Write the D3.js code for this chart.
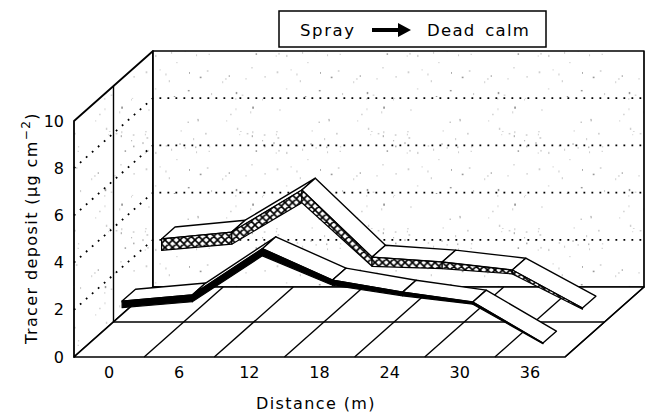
<!DOCTYPE html>
<html>
<head>
<meta charset="utf-8">
<script src="https://cdn.jsdelivr.net/npm/d3@7"></script>
<style>
  html, body { margin: 0; padding: 0; background: #fff; }
  svg { display: block; }
  text { font-family: "DejaVu Sans", sans-serif; fill: #000; }
</style>
</head>
<body>
<div id="chart"></div>
<script>
// values (ug cm-2)
const distances = [0, 6, 12, 18, 24, 30, 36]
const yTicks = [0, 2, 4, 6, 8, 10]
const rows = ['front', 'back']
const frontDeposit = [1.88, 2.14, 4.1, 2.77, 2.26, 1.84, 0.1]
const backDeposit = [3.03, 3.32, 5.1, 2.26, 2.05, 1.71, 0.1]

const W = 646, H = 413
const svg = d3.select('#chart').append('svg')
  .attr('width', W).attr('height', H)
  .attr('viewBox', `0 0 ${W} ${H}`)

const x = d3.scaleBand().domain(distances).range([74, 565])
const y = d3.scaleLinear().domain([0, 10]).range([357, 121])
const z = d3.scaleBand().domain(rows).range([0, 1])
// ribbon edge gets thinner towards the far end
const taper = d3.scaleLinear().domain([0, 12, 18, 36]).range([1, 1.1, 0.8, 0.1])

// oblique projection: full depth goes up and to the right
const DX = 79, DY = -70
const pt = (px, py, d) => [px + DX * d, py + DY * d]
const poly = pts => 'M' + pts.map(p => p.join(',')).join('L') + 'Z'

const defs = svg.append('defs')

// speckled wall texture (deterministic lcg, just for the grain)
let seed = 11
const rnd = () => (seed = (seed * 16807) % 2147483647) / 2147483647
const speckle = defs.append('pattern')
  .attr('id', 'speckle').attr('patternUnits', 'userSpaceOnUse')
  .attr('width', 131).attr('height', 97)
speckle.append('rect').attr('width', 131).attr('height', 97).attr('fill', '#fff')
d3.range(60).forEach(() => {
  speckle.append('rect')
    .attr('x', rnd() * 131).attr('y', rnd() * 97)
    .attr('width', 0.8 + rnd()).attr('height', 0.8 + rnd() * 1.4)
    .attr('fill', rnd() > 0.75 ? '#999' : '#cfcfcf')
})

const hatch = defs.append('pattern')
  .attr('id', 'hatch').attr('patternUnits', 'userSpaceOnUse')
  .attr('width', 7.5).attr('height', 7.5)
hatch.append('rect').attr('width', 7.5).attr('height', 7.5).attr('fill', '#fff')
hatch.append('path')
  .attr('d', 'M0,0L7.5,7.5M7.5,0L0,7.5M-1,6.5L1,8.5M6.5,-1L8.5,1M-1,1L1,-1M6.5,8.5L8.5,6.5')
  .attr('stroke', '#000').attr('stroke-width', 1.7)

const x0 = x.range()[0], x1 = x.range()[1]
const yBase = y(0), yTop = y(10)

// walls and floor
const frame = svg.append('g').attr('stroke', '#000').attr('stroke-linejoin', 'round')
frame.append('path')
  .attr('d', poly([[x0, yBase], [x0, yTop], pt(x0, yTop, 1), pt(x0, yBase, 1)]))
  .attr('fill', 'url(#speckle)').attr('stroke-width', 1.8)
frame.append('path')
  .attr('d', poly([pt(x0, yTop, 1), pt(x1, yTop, 1), pt(x1, yBase, 1), pt(x0, yBase, 1)]))
  .attr('fill', 'url(#speckle)').attr('stroke-width', 1.7)
frame.append('path')
  .attr('d', poly([[x0, yBase], [x1, yBase], pt(x1, yBase, 1), pt(x0, yBase, 1)]))
  .attr('fill', '#fff').attr('stroke-width', 1.5)

// dotted gridlines on left and back walls
const grid = svg.append('g')
  .attr('stroke', '#000').attr('stroke-width', 1.8)
  .attr('stroke-dasharray', '1.8 6.2').attr('fill', 'none')
yTicks.filter(v => v > 0 && v < 10).forEach(v => {
  grid.append('path').attr('d', d3.line()([[x0, y(v)], pt(x0, y(v), 1), pt(x1, y(v), 1)]))
})

// row divider and floor cells
const floor = svg.append('g').attr('stroke', '#000').attr('stroke-width', 1.4)
const mid = z.bandwidth()
floor.append('path').attr('d', d3.line()([pt(x0, yTop, mid), pt(x0, yBase, mid), pt(x1, yBase, mid)]))
  .attr('fill', 'none')
distances.forEach(dv => {
  const xe = x(dv) + x.bandwidth()
  floor.append('path').attr('d', d3.line()([[xe, yBase], pt(xe, yBase, 1)]))
})

// 3d ribbons, back row first
function ribbon(values, row, fill, base) {
  const d1 = z(row) + z.bandwidth() * 0.33
  const d2 = z(row) + z.bandwidth() * 0.67
  const cx = distances.map(dv => x(dv) + x.bandwidth() / 2)
  const F = values.map((v, i) => pt(cx[i], y(v), d1))
  const B = values.map((v, i) => pt(cx[i], y(v), d2))
  const T = distances.map(dv => base * taper(dv))
  const g = svg.append('g').attr('stroke', '#000').attr('stroke-linejoin', 'round')
  d3.pairs(d3.range(values.length)).forEach(([a, b]) => {
    g.append('path').attr('d', poly([F[a], F[b], B[b], B[a]]))
      .attr('fill', '#fff').attr('stroke-width', 1.4)
  })
  d3.pairs(d3.range(values.length)).forEach(([a, b]) => {
    g.append('path')
      .attr('d', poly([F[a], F[b], [F[b][0], F[b][1] + T[b]], [F[a][0], F[a][1] + T[a]]]))
      .attr('fill', fill).attr('stroke-width', 1.2)
  })
}
ribbon(backDeposit, 'back', 'url(#hatch)', 11.5)
ribbon(frontDeposit, 'front', '#000', 6.5)

// axes
const yAxis = svg.append('g').attr('transform', `translate(${x0},0)`)
  .call(d3.axisLeft(y).tickValues(yTicks).tickSize(0).tickPadding(10))
yAxis.select('.domain').remove()
yAxis.selectAll('text').style('font-size', '16px').style('font-family', '"DejaVu Sans", sans-serif')

const xAxis = svg.append('g').attr('transform', `translate(0,${yBase})`)
  .call(d3.axisBottom(x).tickSize(0).tickPadding(10))
xAxis.select('.domain').remove()
xAxis.selectAll('text').style('font-size', '16px').style('font-family', '"DejaVu Sans", sans-serif')

svg.append('text')
  .attr('x', 316).attr('y', 409).attr('text-anchor', 'middle')
  .style('font-size', '16px').style('letter-spacing', '1.4px')
  .text('Distance (m)')

const yTitle = svg.append('text')
  .attr('transform', 'translate(37,228) rotate(-90)').attr('text-anchor', 'middle')
  .style('font-size', '16px').style('letter-spacing', '1.4px')
yTitle.append('tspan').text('Tracer deposit (µg cm')
yTitle.append('tspan').attr('dy', -7).style('font-size', '12px').text('−2')
yTitle.append('tspan').attr('dy', 7).text(')')

// title box
const box = svg.append('g')
box.append('rect').attr('x', 279).attr('y', 11).attr('width', 267).attr('height', 36)
  .attr('fill', '#fff').attr('stroke', '#000').attr('stroke-width', 1.5)
box.append('text').attr('x', 300).attr('y', 36)
  .style('font-size', '16.5px').style('letter-spacing', '1.6px').text('Spray')
box.append('path').attr('d', 'M372,28L398,28L398,23L411,30L398,37L398,32L372,32Z').attr('fill', '#000')
box.append('text').attr('x', 427).attr('y', 36)
  .style('font-size', '16.5px').style('letter-spacing', '1.3px').style('word-spacing', '3px')
  .text('Dead calm')
</script>
</body>
</html>
